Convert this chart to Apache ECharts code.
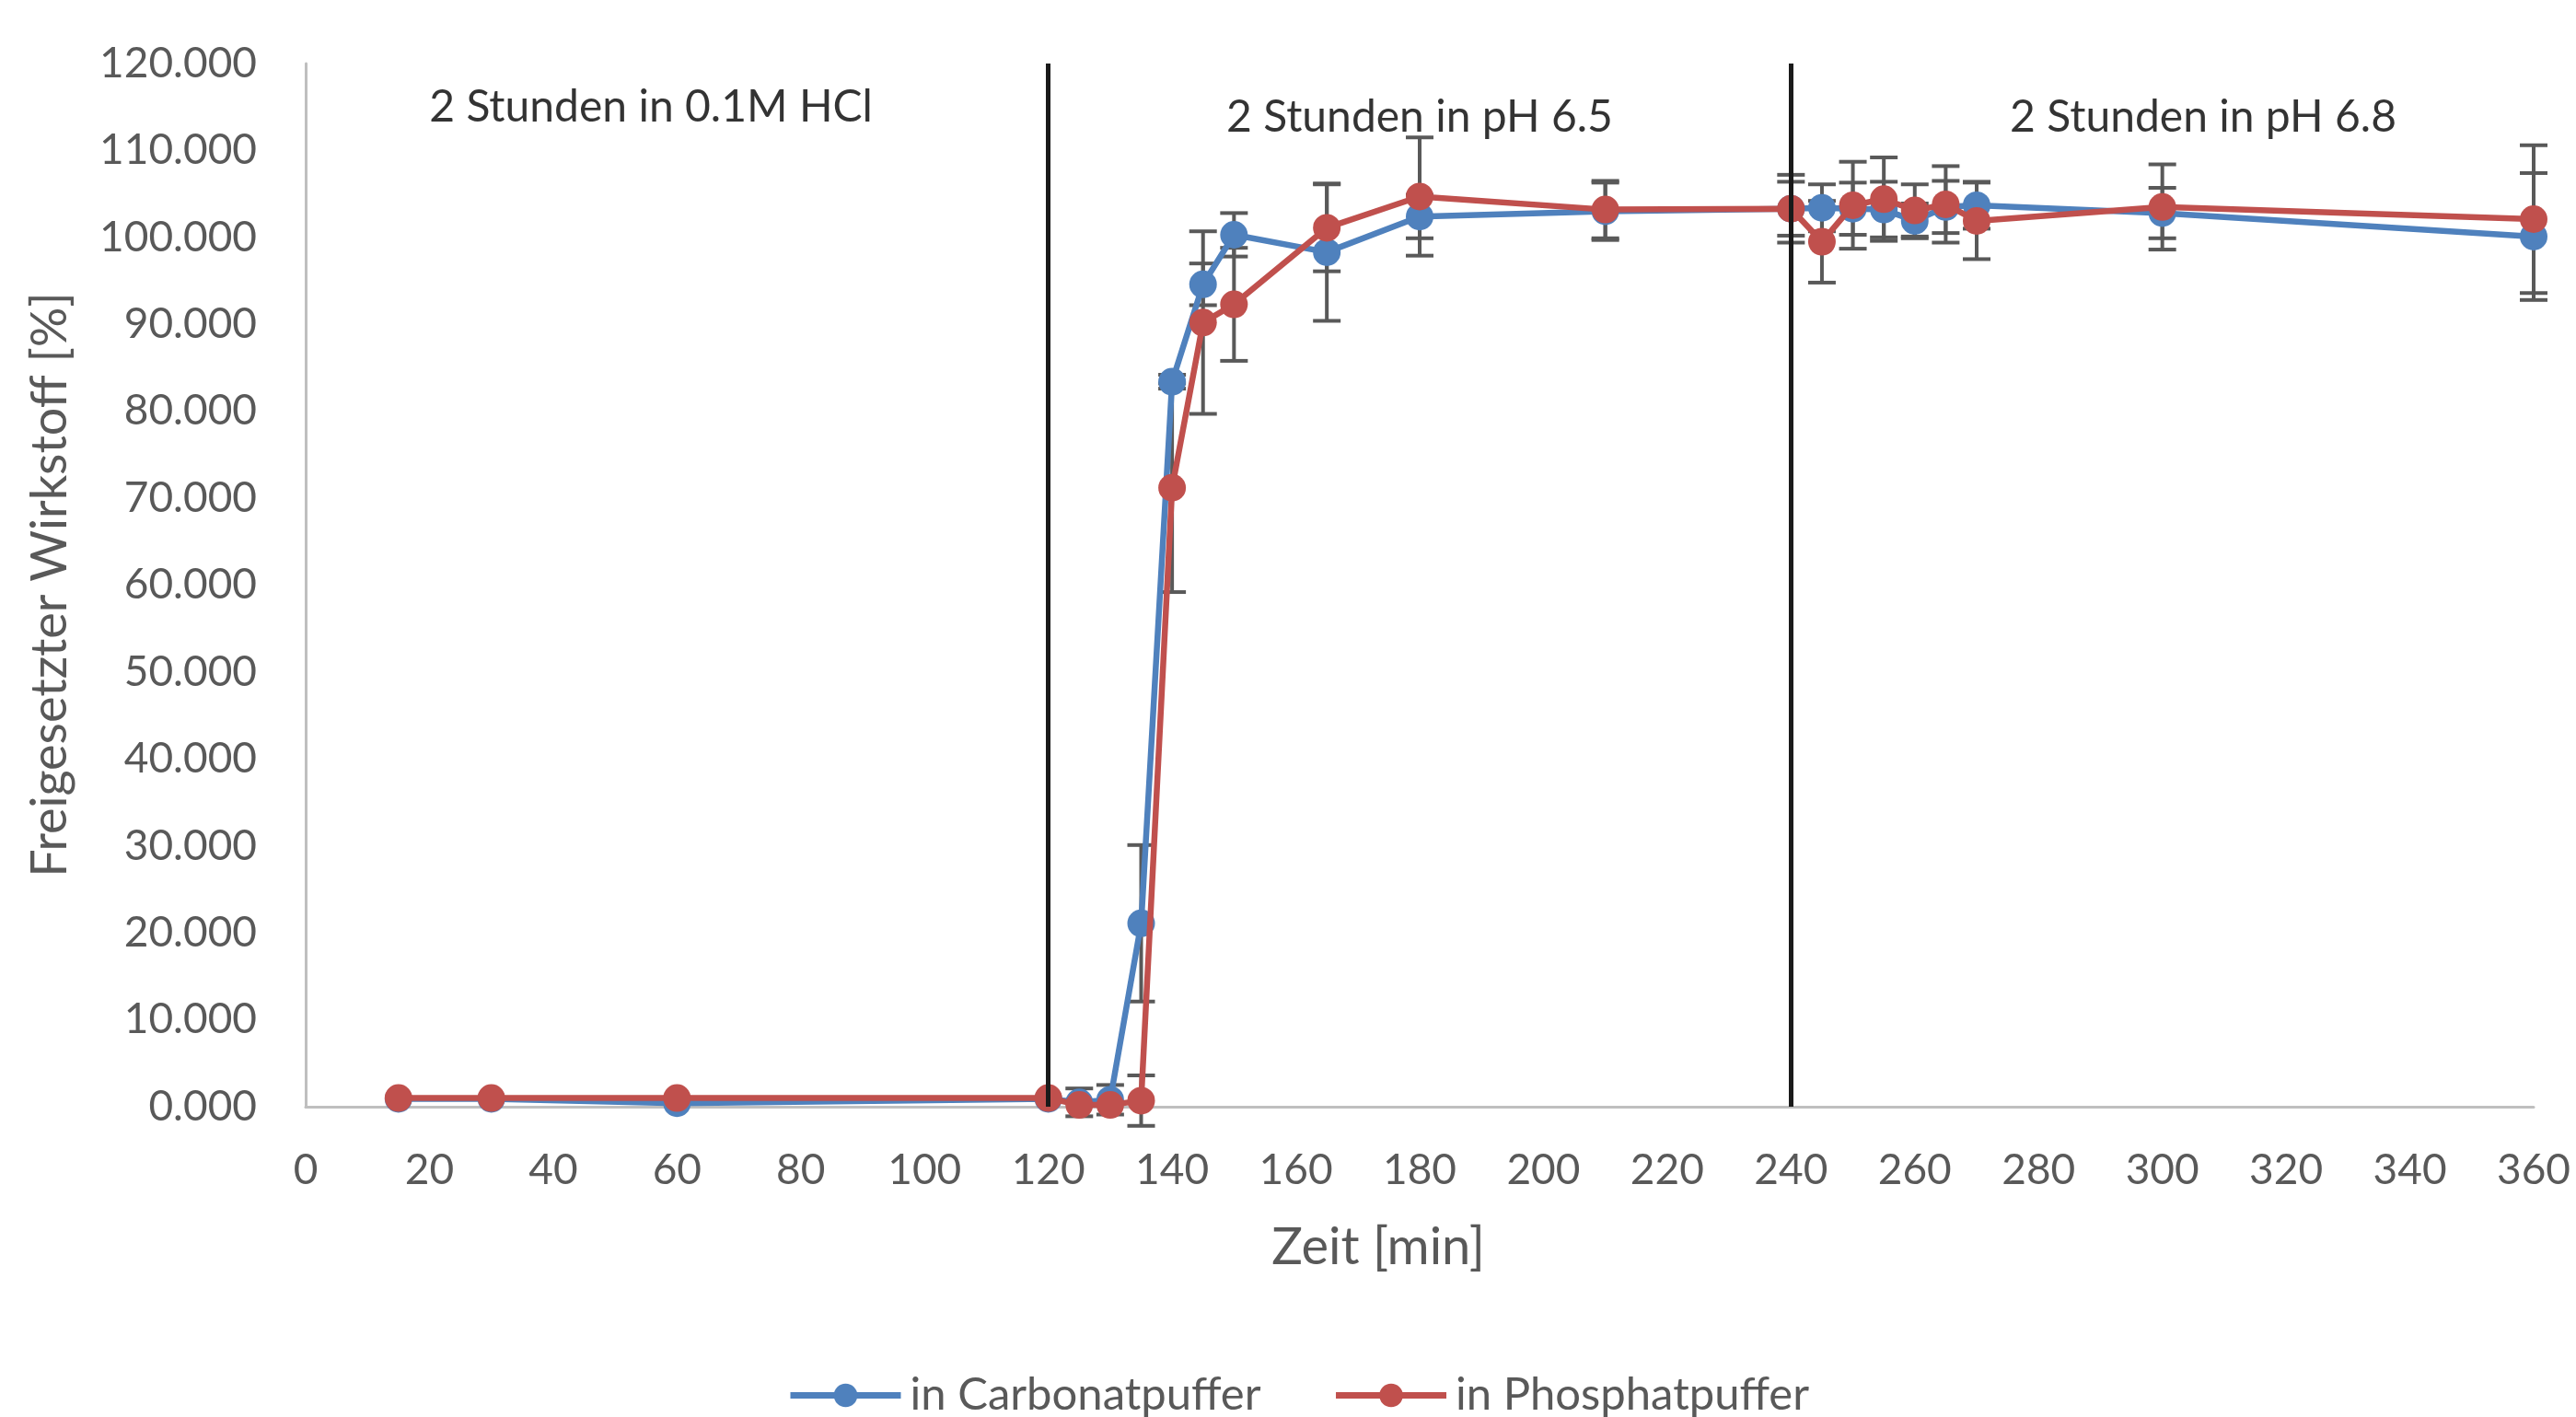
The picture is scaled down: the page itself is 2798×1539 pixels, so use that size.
<!DOCTYPE html>
<html>
<head>
<meta charset="utf-8">
<script src="https://cdn.jsdelivr.net/npm/echarts@6/dist/echarts.min.js"></script>
<style>html,body{margin:0;padding:0;background:#fff;}#c{width:2798px;height:1539px;}</style>
</head>
<body>
<div id="c"></div>
<script>
// ---- data ----
const timeMin = [15, 30, 60, 120, 125, 130, 135, 140, 145, 150, 165, 180, 210, 240, 245, 250, 255, 260, 265, 270, 300, 360];
const carbonat = [0.9, 0.9, 0.4, 0.9, 0.5, 0.8, 21.1, 83.4, 94.6, 100.3, 98.3, 102.4, 103.0, 103.3, 103.4, 103.3, 103.2, 101.9, 103.5, 103.7, 102.8, 100.1];
const carbonatErr = [0, 0, 0, 0, 1.6, 1.7, 9.0, 0.8, 2.4, 2.5, 7.9, 2.5, 3.3, 3.1, 2.7, 3.0, 3.2, 2.0, 3.0, 2.7, 2.9, 7.3];
const phosphat = [1.0, 1.0, 1.0, 1.0, 0.2, 0.2, 0.7, 71.2, 90.2, 92.3, 101.1, 104.7, 103.2, 103.3, 99.5, 103.7, 104.4, 103.1, 103.8, 101.9, 103.5, 102.1];
const phosphatErr = [0, 0, 0, 0, 0, 0, 2.9, 12.0, 10.5, 6.5, 5.0, 6.8, 3.3, 3.9, 4.7, 5.0, 4.8, 3.0, 4.4, 4.4, 4.9, 8.5];
const seriesNames = ['in Carbonatpuffer', 'in Phosphatpuffer'];
const phaseBoundaries = [120, 240];
const phaseLabels = ['2 Stunden in 0.1M HCl', '2 Stunden in pH 6.5', '2 Stunden in pH 6.8'];
const phaseLabelX = [55.8, 180, 306.6];
const phaseLabelY = [115.0, 113.8, 113.8];
const xAxisTitle = 'Zeit [min]';
const yAxisTitle = 'Freigesetzter Wirkstoff [%]';

const FONT = 'Lato';
const BLUE = '#4F81BD', RED = '#C0504D', TXT = '#595959';

function pts(vals) { return timeMin.map((t, i) => [t, vals[i]]); }
function errData(vals, errs) { return timeMin.map((t, i) => [t, vals[i], errs[i]]); }

function errRender(params, api) {
  const x = api.value(0), y = api.value(1), e = api.value(2);
  if (!e) return null;
  const top = api.coord([x, y + e]);
  const bot = api.coord([x, y - e]);
  const hw = 15;
  const st = { stroke: '#595959', lineWidth: 4 };
  return {
    type: 'group',
    children: [
      { type: 'line', shape: { x1: top[0], y1: top[1], x2: bot[0], y2: bot[1] }, style: st },
      { type: 'line', shape: { x1: top[0] - hw, y1: top[1], x2: top[0] + hw, y2: top[1] }, style: st },
      { type: 'line', shape: { x1: bot[0] - hw, y1: bot[1], x2: bot[0] + hw, y2: bot[1] }, style: st }
    ]
  };
}

const chart = echarts.init(document.getElementById('c'));
chart.setOption({
  animation: false,
  backgroundColor: '#ffffff',
  textStyle: { fontFamily: FONT },
  grid: { left: 332, right: 46, top: 69, bottom: 337, containLabel: false, outerBoundsMode: 'none' },
  xAxis: {
    type: 'value', min: 0, max: 360, interval: 20,
    axisLine: { show: true, lineStyle: { color: '#BFBFBF', width: 3 } },
    axisTick: { show: false },
    splitLine: { show: false },
    axisLabel: { color: TXT, fontSize: 46, fontFamily: FONT, margin: 46 }
  },
  yAxis: {
    type: 'value', min: 0, max: 120, interval: 10,
    axisLine: { show: true, lineStyle: { color: '#BFBFBF', width: 3 } },
    axisTick: { show: false },
    splitLine: { show: false },
    axisLabel: { color: TXT, fontSize: 46, fontFamily: FONT, margin: 53, formatter: v => v.toFixed(3) }
  },
  legend: {
    left: 850, top: 1486,
    itemWidth: 120, itemHeight: 32, itemGap: 78,
    lineStyle: { width: 7 },
    textStyle: { color: TXT, fontSize: 49, fontFamily: FONT, padding: [0, 0, 0, 5] },
    data: seriesNames
  },
  graphic: [
    { type: 'text', x: 1497, y: 1355, style: { text: xAxisTitle, fill: TXT, font: '56px ' + FONT, textAlign: 'center', textVerticalAlign: 'middle' } },
    { type: 'text', x: 55, y: 635, rotation: Math.PI / 2, style: { text: yAxisTitle, fill: TXT, font: '54px ' + FONT, textAlign: 'center', textVerticalAlign: 'middle' } }
  ],
  series: [
    {
      type: 'custom', name: 'errC', renderItem: errRender, data: errData(carbonat, carbonatErr), z: 1, silent: true
    },
    {
      type: 'custom', name: 'errP', renderItem: errRender, data: errData(phosphat, phosphatErr), z: 1, silent: true
    },
    {
      type: 'line', name: seriesNames[0], data: pts(carbonat), z: 3,
      symbol: 'circle', symbolSize: 30, showAllSymbol: true,
      lineStyle: { color: BLUE, width: 6.5 }, itemStyle: { color: BLUE },
      markLine: {
        silent: true, symbol: 'none', label: { show: false },
        lineStyle: { color: '#1a1a1a', width: 5, type: 'solid' },
        data: phaseBoundaries.map(b => ({ xAxis: b }))
      }
    },
    {
      type: 'line', name: seriesNames[1], data: pts(phosphat), z: 4,
      symbol: 'circle', symbolSize: 30, showAllSymbol: true,
      lineStyle: { color: RED, width: 6.5 }, itemStyle: { color: RED }
    },
    {
      type: 'scatter', name: 'phases', silent: true, z: 5,
      symbolSize: 1, itemStyle: { color: 'rgba(0,0,0,0)' },
      label: { show: true, position: 'inside', color: '#000', fontSize: 48, fontFamily: FONT, formatter: p => p.data[2] },
      data: phaseLabels.map((t, i) => [phaseLabelX[i], phaseLabelY[i], t])
    }
  ]
});
</script>
</body>
</html>
